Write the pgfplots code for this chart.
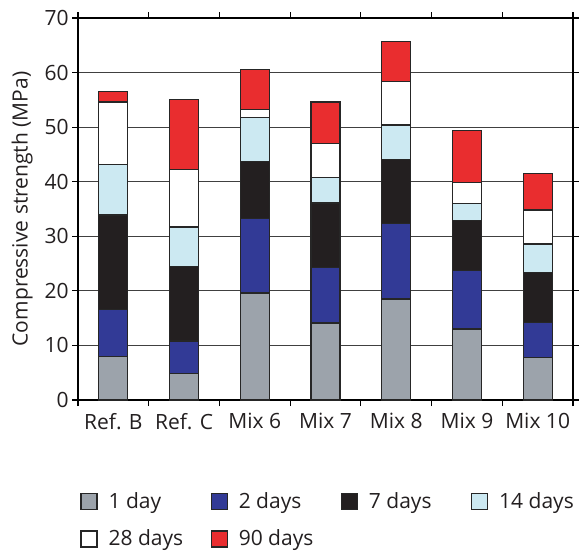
\documentclass[border=0pt]{standalone}
\usepackage{fontspec}
\setmainfont{Open Sans}
\usepackage{pgfplots}
\pgfplotsset{compat=1.18}
\definecolor{cgray}{HTML}{9CA3AB}
\definecolor{cblue}{HTML}{323A96}
\definecolor{cblack}{HTML}{231F20}
\definecolor{clight}{HTML}{CCE9F2}
\definecolor{cred}{HTML}{E92D2F}
\definecolor{ctext}{HTML}{231F20}
\newcommand{\legent}[1]{\makebox[52.5pt][l]{\hspace{3.5pt}#1}}
\begin{document}
\fontsize{10.5}{12.6}\selectfont
\begin{tikzpicture}
\begin{axis}[
  scale only axis, width=247.5pt, height=191pt,
  ybar stacked, bar width=14.5pt,
  xmin=-0.5, xmax=6.5, ymin=0, ymax=70,
  xtick={-0.5,0.5,...,6.5},
  x tick label as interval,
  xticklabels={Ref. B, Ref. C, Mix 6, Mix 7, Mix 8, Mix 9, Mix 10},
  ytick={0,10,...,70},
  ymajorgrids, grid style={line width=0.5pt, color=black!75},
  axis line style={line width=0.6pt, color=black},
  tick style={line width=0.6pt, color=black},
  tick align=outside, major tick length=3pt,
  /pgf/number format/assume math mode=true,
  ticklabel style={font=\fontsize{10.5}{12.6}\selectfont, color=ctext},
  yticklabel style={xshift=2pt},
  ylabel={Compressive strength (MPa)},
  ylabel style={at={(axis description cs:-0.113,0.5)}, anchor=center, rotate=0, font=\fontsize{10.5}{12.6}\selectfont, color=ctext},
  every axis plot/.append style={draw=black!85, line width=0.6pt},
  legend columns=4,
  legend style={at={(axis description cs:0.004,-0.23)}, anchor=north west, draw=none, fill=none, inner sep=0pt,
    font=\fontsize{10.5}{12.6}\selectfont, text=ctext, row sep=5pt,
    nodes={inner sep=2pt}},
  legend image code/.code={\draw[#1, draw=black!85, line width=0.6pt] (0pt,-4pt) rectangle (8pt,4pt);},
]
\addplot[fill=cgray] coordinates {(0,8.0) (1,4.8) (2,19.6) (3,14.1) (4,18.5) (5,13.0) (6,7.8)};
\addplot[fill=cblue] coordinates {(0,8.6) (1,6.0) (2,13.6) (3,10.2) (4,13.9) (5,10.7) (6,6.4)};
\addplot[fill=cblack] coordinates {(0,17.3) (1,13.6) (2,10.5) (3,11.8) (4,11.6) (5,9.2) (6,9.1)};
\addplot[fill=clight] coordinates {(0,9.2) (1,7.3) (2,8.1) (3,4.6) (4,6.4) (5,3.1) (6,5.3)};
\addplot[fill=white] coordinates {(0,11.5) (1,10.6) (2,1.4) (3,6.3) (4,8.0) (5,3.9) (6,6.2)};
\addplot[fill=cred] coordinates {(0,2.0) (1,12.7) (2,7.3) (3,7.6) (4,7.3) (5,9.5) (6,6.7)};
\legend{\legent{1 day}, \legent{2 days}, \legent{7 days}, \hspace{3.5pt}14 days, \legent{28 days}, \legent{90 days}}
\end{axis}
\pgfresetboundingbox
\path[use as bounding box] ([xshift=-39pt,yshift=-76.5pt]current axis.south west) rectangle ([xshift=3pt,yshift=9pt]current axis.north east);
\end{tikzpicture}
\end{document}
